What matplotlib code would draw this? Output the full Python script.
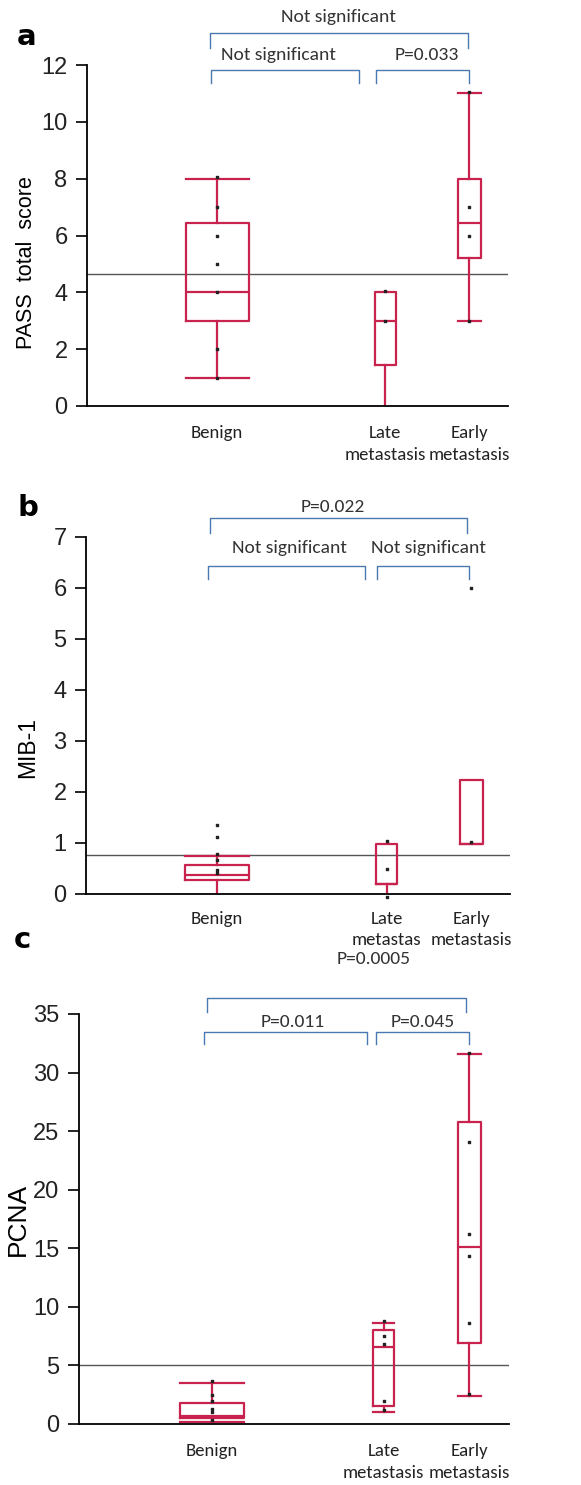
import numpy as np
import matplotlib.pyplot as plt

groups = ['Benign', 'Late\nmetastasis', 'Early\nmetastasis']
groups_b = ['Benign', 'Late\nmetastas', 'Early\nmetastasis']
pos = [2, 4, 5]

# panel a: PASS total score  (whislo, q1, med, q3, whishi)
pass_stats = [(1, 3, 4, 6.45, 8), (0, 1.45, 3, 4, 4), (3, 5.2, 6.45, 8, 11)]
pass_pts = [[8.05, 7, 6, 5, 4, 2, 1], [4.05, 3], [11.05, 7, 6, 3]]
pass_ref = 4.65

# panel b: MIB-1
mib_stats = [(0, 0.28, 0.37, 0.57, 0.75), (0, 0.2, 0.2, 0.98, 0.98), (0.98, 0.98, 0.98, 2.23, 2.23)]
mib_pts = [[1.35, 1.12, 0.78, 0.67, 0.47, 0.41], [1.03, 0.49, -0.05], [6.0, 1.02]]
mib_ref = 0.77

# panel c: PCNA
pcna_stats = [(0.15, 0.5, 0.7, 1.75, 3.5), (1.0, 1.5, 6.6, 8.0, 8.6), (2.4, 6.9, 15.1, 25.8, 31.6)]
pcna_pts = [[3.7, 2.5, 2.0, 1.3, 1.0, 0.3], [8.8, 7.5, 6.8, 2.0, 1.2], [31.7, 24.1, 16.2, 14.3, 8.6, 2.6]]
pcna_ref = 5.05

red = '#c8234f'
blue = '#4a78b0'
tick_font = ['Liberation Sans Narrow', 'Liberation Sans', 'DejaVu Sans']
cat_font = ['Carlito', 'Lato', 'DejaVu Sans']

fig = plt.figure(figsize=(5.81, 14.85), dpi=100)


def panel(rect, stats, pts, ref, ylim, yticks, ylabel, ylab_size, cats, hide_caps=(), xpad=14):
    ax = fig.add_axes(rect)
    widths = [0.75, 0.25, 0.27]
    bx = []
    for s in stats:
        bx.append(dict(whislo=s[0], q1=s[1], med=s[2], q3=s[3], whishi=s[4], fliers=[]))
    art = ax.bxp(bx, positions=pos, widths=widths, capwidths=widths, showfliers=False,
                 boxprops=dict(color=red, lw=1.6), whiskerprops=dict(color=red, lw=1.6),
                 capprops=dict(color=red, lw=1.6), medianprops=dict(color=red, lw=1.6),
                 manage_ticks=False)
    for i in hide_caps:
        art['caps'][i].set_visible(False)
    for p, vals in zip(pos, pts):
        ax.scatter([p] * len(vals), vals, marker='s', s=4, color='#222', zorder=4, clip_on=False)
    ax.axhline(ref, color='#555', lw=1, zorder=1)
    ax.set_xlim(0.45, 5.46)
    ax.set_ylim(*ylim)
    ax.set_yticks(yticks)
    ax.spines[['top', 'right']].set_visible(False)
    ax.spines['left'].set_linewidth(1.3)
    ax.spines['bottom'].set_linewidth(1.3)
    ax.tick_params(axis='y', length=8, width=1.2, labelsize=17, pad=6, labelcolor='#222')
    for t in ax.get_yticklabels():
        t.set_family(tick_font)
    ax.set_xticks(pos)
    ax.set_xticklabels(cats, family=cat_font, fontsize=13.5, linespacing=1.4, color='#222')
    ax.tick_params(axis='x', length=0, pad=xpad)
    ax.set_ylabel(ylabel, fontsize=ylab_size, family=['Liberation Sans', 'DejaVu Sans'])
    return ax


def bracket(ax, x0, x1, y, h, text, ty, tx):
    ax.plot([x0, x0, x1, x1], [y - h, y, y, y - h], color=blue, lw=1, clip_on=False)
    ax.text(tx, ty, text, ha='center', va='center', fontsize=14, color='#333',
            family=cat_font, clip_on=False)


# a
ax = panel([0.1497, 0.7266, 0.7247, 0.2296], pass_stats, pass_pts, pass_ref,
           (0, 12), range(0, 13, 2), 'PASS  total  score', 15.5, groups,
           hide_caps=(2, 3))
ax.yaxis.set_label_coords(-0.118, 0.42)
bracket(ax, 1.917, 4.988, 13.12, 0.52, 'Not significant', 13.69, 3.44)
bracket(ax, 1.929, 3.69, 11.82, 0.45, 'Not significant', 12.35, 2.73)
bracket(ax, 3.893, 5.0, 11.82, 0.45, 'P=0.033', 12.35, 4.49)
fig.text(27 / 581, 1 - 37 / 1485, 'a', fontsize=21, fontweight='bold', ha='center', va='center')

# b
ax = panel([0.148, 0.398, 0.73, 0.2404], mib_stats, mib_pts, mib_ref,
           (0, 7), range(0, 8), 'MIB-1', 16.5, groups_b, hide_caps=(0, 2, 3, 4, 5), xpad=12)
ax.yaxis.set_label_coords(-0.11, 0.41)
bracket(ax, 1.92, 4.95, 7.37, 0.29, 'P=0.022', 7.59, 3.37)
bracket(ax, 1.89, 3.74, 6.43, 0.25, 'Not significant', 6.78, 2.85)
bracket(ax, 3.89, 4.98, 6.43, 0.25, 'Not significant', 6.78, 4.49)
fig.text(28 / 581, 1 - 508 / 1485, 'b', fontsize=21, fontweight='bold', ha='center', va='center')

# c
ax = panel([0.136, 0.0411, 0.74, 0.2761], pcna_stats, pcna_pts, pcna_ref,
           (0, 35), range(0, 36, 5), 'PCNA', 19, groups)
ax.yaxis.set_label_coords(-0.115, 0.5)
bracket(ax, 1.94, 4.96, 36.38, 1.2, 'P=0.0005', 39.65, 3.88)
bracket(ax, 1.91, 3.81, 33.47, 1.02, 'P=0.011', 34.33, 2.94)
bracket(ax, 3.91, 4.99, 33.47, 1.02, 'P=0.045', 34.33, 4.46)
fig.text(22 / 581, 1 - 940 / 1485, 'c', fontsize=21, fontweight='bold', ha='center', va='center')

fig.savefig('out.png', dpi=100, facecolor='white')
